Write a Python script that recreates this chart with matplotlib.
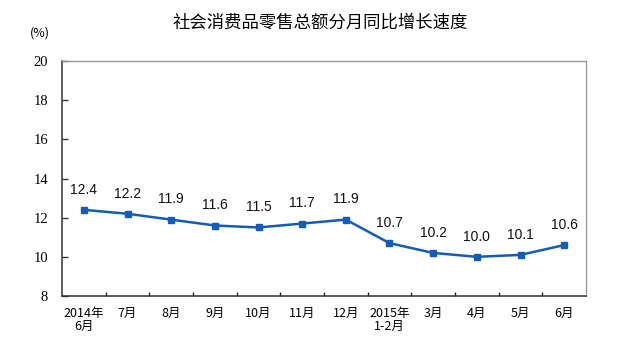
import matplotlib

matplotlib.use("Agg")
import matplotlib.pyplot as plt
import numpy as np

plt.rcParams["font.family"] = ["Noto Sans CJK SC", "DejaVu Sans"]

months = ["2014年\n6月", "7月", "8月", "9月", "10月", "11月", "12月",
          "2015年\n1-2月", "3月", "4月", "5月", "6月"]
growth = [12.4, 12.2, 11.9, 11.6, 11.5, 11.7, 11.9, 10.7, 10.2, 10.0, 10.1, 10.6]
y_ticks = [8, 10, 12, 14, 16, 18, 20]

title = "社会消费品零售总额分月同比增长速度"
unit = "(%)"
blue = "#155CB8"

fig = plt.figure(figsize=(6.4, 3.57), dpi=100)
ax = fig.add_axes([62 / 640, 1 - 296 / 357, (586 - 62) / 640, (296 - 61) / 357])

x = np.arange(len(months))
ax.plot(x, growth, color=blue, lw=1.8, marker="s", ms=4.5, zorder=3)
for xi, v in zip(x, growth):
    ax.annotate(f"{v:.1f}", (xi, v), xytext=(0, 14.5), textcoords="offset points",
                ha="center", va="center", fontsize=10, family="Liberation Sans",
                color="#111111")

ax.set_xlim(-0.5, len(months) - 0.5)
ax.set_ylim(8, 20)
ax.set_yticks(y_ticks)
ax.tick_params(axis="y", direction="in", length=4, width=1, pad=10, color="#333333",
               labelsize=10.5, labelfontfamily="Liberation Serif")

ax.set_xticks(x)
ax.set_xticklabels(months, fontsize=9, linespacing=1.0)
ax.tick_params(axis="x", which="major", length=0, pad=8)
ax.set_xticks(np.arange(0.5, len(months) - 0.5, 1), minor=True)
ax.tick_params(axis="x", which="minor", direction="in", length=3, width=1, color="#222222")

for side in ["left", "bottom"]:
    ax.spines[side].set_color("#333333")
    ax.spines[side].set_linewidth(1.1)
for side in ["top", "right"]:
    ax.spines[side].set_color("#999999")
    ax.spines[side].set_linewidth(1)

fig.text(320 / 640, 1 - 23 / 357, title, ha="center", va="center", fontsize=12.5)
fig.text(40 / 640, 1 - 33 / 357, unit, ha="center", va="center", fontsize=9)

fig.savefig("out.png", dpi=100)
